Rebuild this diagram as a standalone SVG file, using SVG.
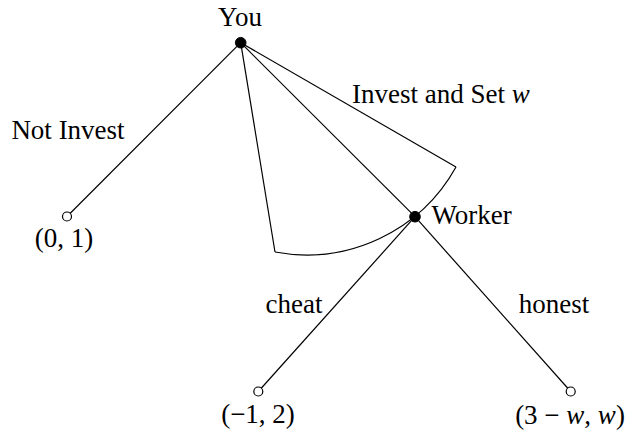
<svg xmlns="http://www.w3.org/2000/svg" width="631" height="434" viewBox="0 0 631 434">
<style>
  .edge { stroke: #000; stroke-width: 1.2; fill: none; }
  .dec { fill: #000; stroke: #000; stroke-width: 1; }
  .leaf { fill: #fff; stroke: #000; stroke-width: 1.2; }
  text { font-family: "Liberation Serif", "Times New Roman", Tinos, "Noto Serif", "DejaVu Serif", FreeSerif, serif; font-size: 27px; fill: #000; }
  .mid { text-anchor: middle; }
  .m { font-style: italic; }
</style>
<rect width="631" height="434" fill="#fff"/>
<g id="connectors">
  <line class="edge" x1="240.7" y1="42.7" x2="67" y2="216.5"/>
  <line class="edge" x1="240.7" y1="42.7" x2="275" y2="252"/>
  <line class="edge" x1="240.7" y1="42.7" x2="415" y2="216.7"/>
  <line class="edge" x1="240.7" y1="42.7" x2="456" y2="167"/>
  <path class="edge" d="M275,252 A171,171 0 0 0 456,167"/>
  <line class="edge" x1="415" y1="216.7" x2="258.3" y2="391.5"/>
  <line class="edge" x1="415" y1="216.7" x2="570.7" y2="391.5"/>
  <text class="mid" x="68" y="139" font-family="Liberation Serif, serif">Not Invest</text>
  <text x="352" y="103" font-family="Liberation Serif, serif">Invest and Set <tspan class="m">w</tspan></text>
  <text class="mid" x="294" y="313" font-family="Liberation Serif, serif">cheat</text>
  <text class="mid" x="554" y="313" font-family="Liberation Serif, serif">honest</text>
</g>
<g id="you">
  <circle class="dec" cx="240.7" cy="42.7" r="5.3"/>
  <text class="mid" x="240" y="26" font-family="Liberation Serif, serif">You</text>
</g>
<g id="worker">
  <circle class="dec" cx="415" cy="216.7" r="5.3"/>
  <text x="431.5" y="224" font-family="Liberation Serif, serif">Worker</text>
</g>
<g id="leaf-not-invest">
  <circle class="leaf" cx="67" cy="216.5" r="4.5"/>
  <text class="mid" x="64" y="247" font-family="Liberation Serif, serif">(0, 1)</text>
</g>
<g id="leaf-cheat">
  <circle class="leaf" cx="258.3" cy="391.5" r="4.5"/>
  <text class="mid" x="258" y="423" font-family="Liberation Serif, serif">(−1, 2)</text>
</g>
<g id="leaf-honest">
  <circle class="leaf" cx="570.7" cy="391.5" r="4.5"/>
  <text class="mid" x="570" y="424" font-family="Liberation Serif, serif">(3 − <tspan class="m">w</tspan>, <tspan class="m">w</tspan>)</text>
</g>
</svg>
